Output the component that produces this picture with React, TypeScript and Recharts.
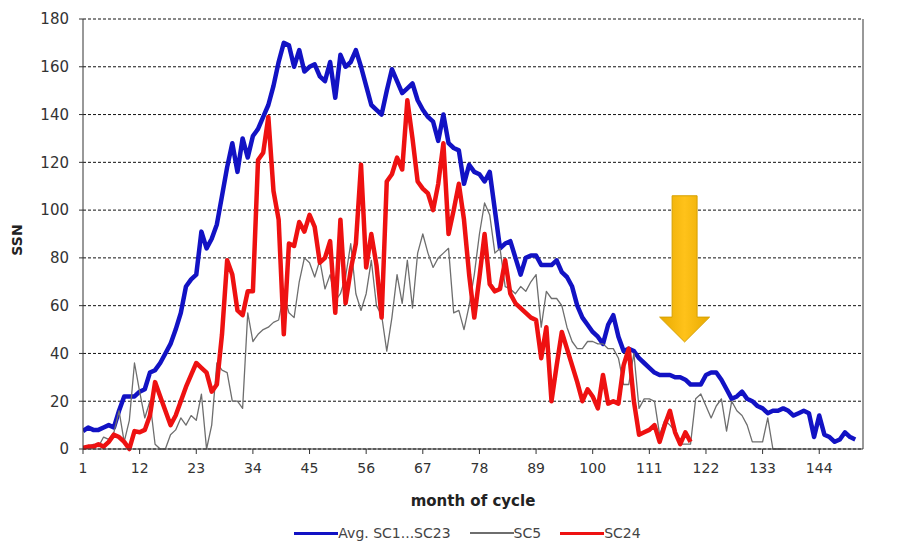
import React from "react";
import { LineChart, Line, XAxis, YAxis, CartesianGrid, Legend, ReferenceArea } from "recharts";

// monthly sunspot numbers
const AVG = [
  7.5, 9, 8, 8, 9, 10, 9, 16, 22, 22,
  22, 24, 25, 32, 33, 36, 40, 44, 50, 57,
  68, 71, 73, 91, 84, 88, 94, 106, 118, 128,
  116, 130, 122, 131, 134, 139, 144, 152, 162, 170,
  169, 160, 167, 158, 160, 161, 156, 154, 162, 147,
  165, 160, 162, 167, 160, 152, 144, 142, 140, 150,
  159, 154, 149, 151, 153, 146, 142, 139, 137, 129,
  140, 128, 126, 125, 111, 119, 116, 115, 112, 116,
  100, 84, 86, 87, 80, 73, 80, 81, 81, 77,
  77, 77, 79, 74, 72, 68, 60, 55, 52, 49,
  47, 44, 52, 56, 47, 41, 42, 41, 38, 36,
  34, 32, 31, 31, 31, 30, 30, 29, 27, 27,
  27, 31, 32, 32, 29, 25, 21, 22, 24, 21,
  20, 18, 17, 15, 16, 16, 17, 16, 14, 15,
  16, 15, 5, 14, 6, 5, 3, 4, 7, 5, 4,
];

const SC5 = [
  0, 1, 2, 1, 5, 4, 7, 16, 3, 12,
  36, 24, 13, 20, 2, 0, 0, 6, 8, 13,
  10, 14, 12, 23, 0, 10, 36, 33, 32, 20,
  20, 17, 57, 45, 48, 50, 51, 53, 54, 65,
  57, 55, 70, 80, 78, 72, 79, 67, 73, 62,
  65, 72, 86, 65, 58, 65, 79, 60, 56, 41,
  55, 73, 61, 79, 59, 82, 90, 82, 76, 80,
  82, 84, 57, 58, 50, 60, 73, 90, 103, 98,
  82, 84, 68, 67, 65, 68, 66, 70, 73, 51,
  66, 63, 63, 60, 51, 45, 42, 42, 45, 45,
  44, 44, 42, 42, 38, 27, 27, 40, 17, 21,
  21, 20, 6, 12, 10, 7.5, 2, 2, 2, 21,
  23, 18, 13, 18, 21, 7.5, 20, 16, 14, 10,
  3, 3, 3, 13, 0, 0, 0,
];

const SC24 = [
  0.5, 1, 1, 2, 1, 3, 6, 5, 3, 0,
  7.5, 7, 8, 14, 28, 22, 16, 10, 14, 20,
  26, 31, 36, 34, 32, 24, 27, 48, 79, 73,
  58, 56, 66, 66, 121, 124, 139, 108, 96, 48,
  86, 85, 95, 91, 98, 93, 78, 80, 87, 57,
  96, 61, 75, 86, 119, 76, 90, 77, 55, 112,
  115, 122, 117, 146, 130, 112, 109, 107, 100, 111,
  128, 90, 100, 111, 96, 73, 55, 72, 90, 69,
  66, 67, 79, 65, 61, 59, 57, 55, 54, 38,
  51, 20, 35, 49, 42, 35, 28, 20, 25, 22,
  17, 31, 19, 20, 19, 35, 42, 20, 6, 7,
  8, 10, 3, 10, 16, 7, 2, 7, 3,
];

const X_TICKS = [1, 12, 23, 34, 45, 56, 67, 78, 89, 100, 111, 122, 133, 144];
const Y_TICKS = [0, 20, 40, 60, 80, 100, 120, 140, 160, 180];

const SERIES = [
  { key: "avg", name: "Avg. SC1...SC23", color: "#1212c4", width: 4.5, legendWidth: 3 },
  { key: "sc5", name: "SC5", color: "#6e6e6e", width: 1.3, legendWidth: 2 },
  { key: "sc24", name: "SC24", color: "#ee1111", width: 4.5, legendWidth: 3 },
];

const data = AVG.map((v, i) => ({
  month: i + 1,
  avg: v,
  sc5: SC5[i],
  sc24: SC24[i],
}));

const FONT = "DejaVu Sans";

function LegendContent() {
  return (
    <div
      style={{
        display: "flex",
        justifyContent: "center",
        alignItems: "center",
        fontFamily: FONT,
        fontSize: 14,
        color: "#444",
        height: 20,
        paddingRight: 11,
      }}
    >
      {SERIES.map((s, i) => (
        <div key={s.key} style={{ display: "flex", alignItems: "center", marginLeft: i ? 19 : 0 }}>
          <span style={{ display: "inline-block", width: 44, height: s.legendWidth, background: s.color }} />
          <span>{s.name}</span>
        </div>
      ))}
    </div>
  );
}

function ArrowShape(props: any) {
  const { x, y, width, height } = props;
  const cx = x + width / 2;
  const half = width / 4;
  const headTop = y + height * 0.83;
  const pts = [
    [cx - half, y],
    [cx + half, y],
    [cx + half, headTop],
    [x + width, headTop],
    [cx, y + height],
    [x, headTop],
    [cx - half, headTop],
  ]
    .map((p) => p.join(","))
    .join(" ");
  return (
    <g>
      <defs>
        <linearGradient id="arrowFill" x1="0" y1="0" x2="1" y2="0">
          <stop offset="0%" stopColor="#e8aa00" />
          <stop offset="50%" stopColor="#ffc21a" />
          <stop offset="100%" stopColor="#e8aa00" />
        </linearGradient>
      </defs>
      <polygon points={pts} fill="url(#arrowFill)" stroke="#d6a000" strokeWidth={1} />
    </g>
  );
}

function SsnLabel(props: any) {
  const { viewBox } = props;
  const cx = viewBox.x - 26;
  const cy = viewBox.y + viewBox.height / 2 + 6;
  return (
    <text
      x={cx}
      y={cy}
      transform={`rotate(-90, ${cx}, ${cy})`}
      textAnchor="middle"
      dominantBaseline="central"
      fontFamily={FONT}
      fontWeight="bold"
      fontSize={14}
      fill="#222"
    >
      SSN
    </text>
  );
}

export default function App() {
  const tickStyle = { fontSize: 14, fill: "#333", fontFamily: FONT };
  const yTickStyle = { fontSize: 15, fill: "#333", fontFamily: FONT };
  return (
    <div style={{ position: "absolute", left: 0, top: 0, width: 908, height: 543, background: "#fff" }}>
      <LineChart width={908} height={543} data={data} margin={{ top: 19, right: 5, bottom: 0, left: 43 }}>
        <CartesianGrid yAxisId="left" vertical={false} stroke="#111" strokeDasharray="3 2" />
        <XAxis
          dataKey="month"
          type="number"
          domain={[1, 152.5]}
          ticks={X_TICKS}
          interval={0}
          allowDataOverflow
          height={74}
          tickSize={5}
          tickMargin={9}
          tick={tickStyle}
          axisLine={{ stroke: "#333" }}
          tickLine={{ stroke: "#333" }}
          label={{
            value: "month of cycle",
            position: "insideBottom",
            offset: 17,
            fontFamily: FONT,
            fontWeight: "bold",
            fontSize: 15,
            fill: "#222",
          }}
        />
        <YAxis
          yAxisId="left"
          domain={[0, 180]}
          ticks={Y_TICKS}
          interval={0}
          width={40}
          tickSize={4}
          tickMargin={10}
          tick={yTickStyle}
          axisLine={{ stroke: "#333" }}
          tickLine={{ stroke: "#333" }}
          label={<SsnLabel />}
        />
        <YAxis
          yAxisId="right"
          orientation="right"
          domain={[0, 180]}
          ticks={Y_TICKS}
          interval={0}
          width={40}
          tickSize={4}
          tickMargin={10}
          tick={yTickStyle}
          axisLine={{ stroke: "#333" }}
          tickLine={{ stroke: "#333" }}
        />
        {SERIES.map((s) => (
          <Line
            key={s.key}
            yAxisId="left"
            type="linear"
            dataKey={s.key}
            name={s.name}
            stroke={s.color}
            strokeWidth={s.width}
            strokeLinejoin="round"
            dot={false}
            activeDot={false}
            isAnimationActive={false}
          />
        ))}
        <ReferenceArea
          yAxisId="left"
          x1={113}
          x2={122.7}
          y1={44.8}
          y2={106}
          ifOverflow="visible"
          shape={<ArrowShape />}
        />
        <Legend verticalAlign="bottom" height={20} content={<LegendContent />} />
      </LineChart>
    </div>
  );
}
